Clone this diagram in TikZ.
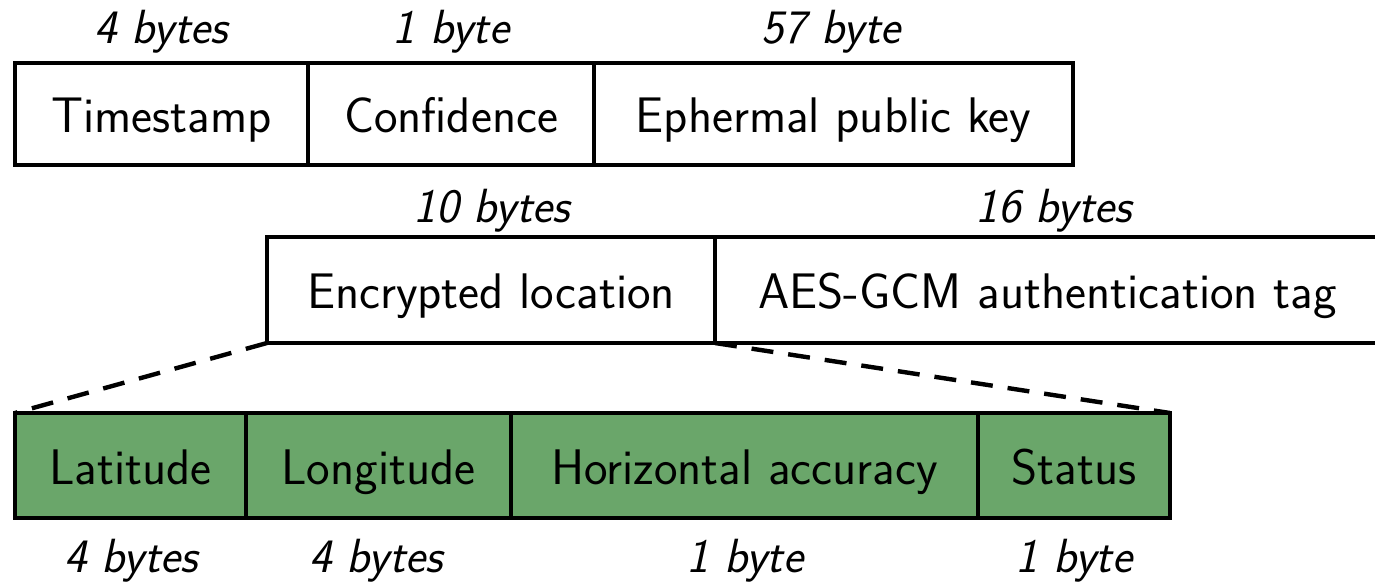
\documentclass[tikz,border=0pt]{standalone}
\usepackage{fontspec}
\begin{document}
\begin{tikzpicture}[x=0.5pt,y=-0.5pt,
  field/.style={draw=black, line width=2.2pt, inner sep=0pt, outer sep=0pt,
    text height=18.5pt, text depth=0pt,
    font=\sffamily\fontsize{25}{30}\selectfont},
  loc/.style={field, fill=locgreen},
  size/.style={anchor=base, inner sep=0pt, font=\sffamily\itshape\fontsize{24}{29}\selectfont},
  zoomline/.style={line width=2.2pt, dash pattern=on 11pt off 7.5pt}]
\definecolor{locgreen}{RGB}{106,166,106}
\clip (0,0) rectangle (1375,584);
\fill[white] (0,0) rectangle (1375,584);

% outer record
\node[field, minimum width=146.5pt, minimum height=51pt] (ts)   at (161.5,114) {Timestamp};
\node[field, minimum width=143pt,   minimum height=51pt] (conf) at (451,114)   {Confidence};
\node[field, minimum width=239.5pt, minimum height=51pt] (key)  at (833.5,114) {Ephermal public key};
\node[size] (s-ts)   at (161,43) {4 bytes};
\node[size] (s-conf) at (451,43) {1 byte};
\node[size] (s-key)  at (831,43) {57 byte};

% encrypted payload
\node[field, minimum width=224pt,   minimum height=53pt] (enc) at (491,290)    {Encrypted location};
\node[field, minimum width=332.5pt, minimum height=53pt] (tag) at (1047.5,290) {AES-GCM authentication tag};
\node[size] (s-enc) at (492,222)  {10 bytes};
\node[size] (s-tag) at (1054,222) {16 bytes};

% decrypted location
\node[loc, minimum width=115.5pt, minimum height=52.5pt] (lat)  at (130.5,465.5) {Latitude};
\node[loc, minimum width=132.5pt, minimum height=52.5pt] (lon)  at (378.5,465.5) {Longitude};
\node[loc, minimum width=233.5pt, minimum height=52.5pt] (hor)  at (744.5,465.5) {Horizontal accuracy};
\node[loc, minimum width=96pt,    minimum height=52.5pt] (stat) at (1074,465.5)  {Status};
\node[size] (s-lat)  at (131,572)  {4 bytes};
\node[size] (s-lon)  at (376,572)  {4 bytes};
\node[size] (s-hor)  at (745,572)  {1 byte};
\node[size] (s-stat) at (1074,572) {1 byte};

% expansion of the encrypted field
\draw[zoomline] (enc.south west) -- (lat.north west);
\draw[zoomline] (enc.south east) -- (stat.north east);
\end{tikzpicture}
\end{document}
